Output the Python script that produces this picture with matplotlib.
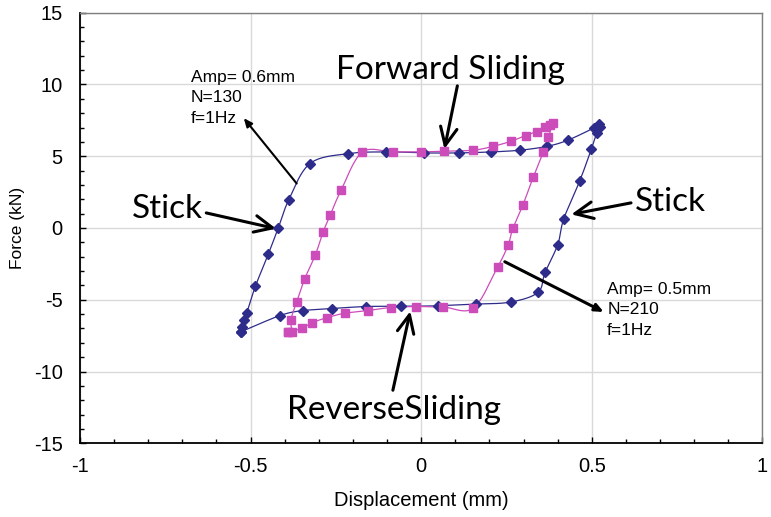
import numpy as np
import matplotlib
matplotlib.use("Agg")
import matplotlib.pyplot as plt
from matplotlib.ticker import MultipleLocator

# Amp = 0.6 mm, N = 130 (navy diamonds)
disp_a = [-0.527, -0.525, -0.520, -0.511, -0.486, -0.448, -0.419, -0.388, -0.326,
          -0.215, -0.102, 0.008, 0.110, 0.206, 0.290, 0.369, 0.429, 0.507, 0.521,
          0.525, 0.515, 0.499, 0.465, 0.418, 0.400, 0.363, 0.342, 0.262, 0.161,
          0.049, -0.060, -0.162, -0.262, -0.347, -0.414, -0.527]
force_a = [-7.22, -6.87, -6.40, -5.89, -4.06, -1.81, 0.00, 1.97, 4.49,
           5.18, 5.30, 5.23, 5.23, 5.30, 5.42, 5.69, 6.11, 6.98, 7.21,
           7.05, 6.63, 5.51, 3.30, 0.65, -1.17, -3.10, -4.49, -5.16, -5.30,
           -5.42, -5.45, -5.47, -5.61, -5.75, -6.10, -7.22]

# Amp = 0.5 mm, N = 210 (magenta squares)
disp_b = [-0.391, -0.379, -0.382, -0.365, -0.341, -0.310, -0.288, -0.267, -0.235,
          -0.173, -0.084, -0.002, 0.068, 0.153, 0.211, 0.263, 0.306, 0.339, 0.362,
          0.378, 0.386, 0.373, 0.358, 0.329, 0.298, 0.269, 0.255, 0.224, 0.153,
          0.065, -0.015, -0.089, -0.157, -0.223, -0.275, -0.319, -0.350, -0.391]
force_b = [-7.22, -7.22, -6.40, -5.16, -3.52, -1.86, -0.31, 0.88, 2.62,
           5.28, 5.30, 5.30, 5.35, 5.42, 5.69, 6.04, 6.44, 6.72, 7.05,
           7.20, 7.28, 6.37, 5.30, 3.58, 1.60, 0.00, -1.17, -2.72, -5.58,
           -5.51, -5.47, -5.54, -5.75, -5.93, -6.24, -6.59, -7.00, -7.22]

x_ticks = [-1, -0.5, 0, 0.5, 1]
x_ticklabels = ["-1", "-0.5", "0", "0.5", "1"]
y_ticks = [-15, -10, -5, 0, 5, 10, 15]
y_ticklabels = ["-15", "-10", "-5", "0", "5", "10", "15"]

NAVY = "#2E2C8A"
PINK = "#CC4CBA"


def smooth(xs, ys, n=20):
    x = np.asarray(xs, float)
    y = np.asarray(ys, float)
    px = np.concatenate([[x[0]], x, [x[-1]]])
    py = np.concatenate([[y[0]], y, [y[-1]]])
    out_x, out_y = [], []
    t = np.linspace(0, 1, n)
    for i in range(1, len(px) - 2):
        p0x, p1x, p2x, p3x = px[i - 1], px[i], px[i + 1], px[i + 2]
        p0y, p1y, p2y, p3y = py[i - 1], py[i], py[i + 1], py[i + 2]
        c1x = p1x + (p2x - p0x) / 6
        c1y = p1y + (p2y - p0y) / 6
        c2x = p2x - (p3x - p1x) / 6
        c2y = p2y - (p3y - p1y) / 6
        bx = (1 - t) ** 3 * p1x + 3 * (1 - t) ** 2 * t * c1x + 3 * (1 - t) * t ** 2 * c2x + t ** 3 * p2x
        by = (1 - t) ** 3 * p1y + 3 * (1 - t) ** 2 * t * c1y + 3 * (1 - t) * t ** 2 * c2y + t ** 3 * p2y
        out_x.extend(bx)
        out_y.extend(by)
    return np.array(out_x), np.array(out_y)


fig = plt.figure(figsize=(7.71, 5.17), dpi=100)
ax = fig.add_axes([0.1038, 0.1425, 0.885, 0.833])

sx, sy = smooth(disp_a, force_a)
ax.plot(sx, sy, color=NAVY, lw=0.9, zorder=3)
ax.plot(disp_a, force_a, ls="none", marker="D", ms=4.8, color=NAVY, zorder=4)

sx, sy = smooth(disp_b, force_b)
ax.plot(sx, sy, color=PINK, lw=0.9, zorder=3)
ax.plot(disp_b, force_b, ls="none", marker="s", ms=5.4, color=PINK, zorder=4)

ax.set_xlim(-1, 1)
ax.set_ylim(-15, 15)
ax.set_xticks(x_ticks)
ax.set_xticklabels(x_ticklabels)
ax.set_yticks(y_ticks)
ax.set_yticklabels(y_ticklabels)
ax.xaxis.set_minor_locator(MultipleLocator(0.1))
ax.yaxis.set_minor_locator(MultipleLocator(1))
ax.tick_params(which="both", direction="in", top=False, right=False, color="black")
ax.tick_params(which="major", length=4, width=1.0, labelsize=14.5)
ax.tick_params(axis="y", which="major", pad=12.5)
ax.tick_params(axis="x", which="major", pad=10)
ax.tick_params(which="minor", length=3, width=1.0)
for lab in ax.get_xticklabels() + ax.get_yticklabels():
    lab.set_family("Liberation Sans")
ax.grid(True, which="major", color="#D9D9D9", lw=1.0)
ax.set_axisbelow(True)
for s in ["left", "bottom"]:
    ax.spines[s].set_color("black")
    ax.spines[s].set_linewidth(1.3)
for s in ["top", "right"]:
    ax.spines[s].set_color("#7F7F7F")
    ax.spines[s].set_linewidth(1.0)

ax.set_xlabel("Displacement (mm)", fontsize=14.5, family="Liberation Sans")
ax.set_ylabel("Force (kN)", fontsize=12.5, family="Liberation Sans")
ax.xaxis.set_label_coords(0.5, -0.11)
ax.yaxis.set_label_coords(-0.08, 0.5)

big = dict(fontsize=24, family="Lato", color="black")
arrow_big = dict(arrowstyle="->,head_length=1.3,head_width=0.6", color="black", lw=2.2,
                 shrinkA=0, shrinkB=0)

ax.annotate("", xy=(0.068, 5.5), xytext=(0.106, 9.9), arrowprops=arrow_big)
ax.text(0.087, 11.0, "Forward Sliding", ha="center", va="center", **big)

ax.annotate("", xy=(-0.032, -5.8), xytext=(-0.083, -11.3), arrowprops=arrow_big)
ax.text(-0.081, -12.7, "ReverseSliding", ha="center", va="center", **big)

ax.annotate("", xy=(-0.425, -0.05), xytext=(-0.63, 1.05), arrowprops=arrow_big)
ax.text(-0.745, 1.35, "Stick", ha="center", va="center", **big)

ax.annotate("", xy=(0.44, 0.95), xytext=(0.615, 1.75), arrowprops=arrow_big)
ax.text(0.73, 1.8, "Stick", ha="center", va="center", **big)

small = dict(fontsize=12.5, family="Liberation Sans", color="black", linespacing=1.45)
ax.text(-0.675, 11.0, "Amp= 0.6mm\nN=130\nf=1Hz", ha="left", va="top", **small)
ax.annotate("", xy=(-0.52, 7.65), xytext=(-0.365, 3.1),
            arrowprops=dict(arrowstyle="-|>,head_length=0.5,head_width=0.22", color="black", lw=1.5,
                            shrinkA=0, shrinkB=0))

ax.text(0.545, -3.75, "Amp= 0.5mm\nN=210\nf=1Hz", ha="left", va="top", **small)
ax.annotate("", xy=(0.535, -5.85), xytext=(0.245, -2.35),
            arrowprops=dict(arrowstyle="-|>,head_length=0.5,head_width=0.22", color="black", lw=2.2,
                            shrinkA=0, shrinkB=0))

fig.savefig("out.png", dpi=100)
